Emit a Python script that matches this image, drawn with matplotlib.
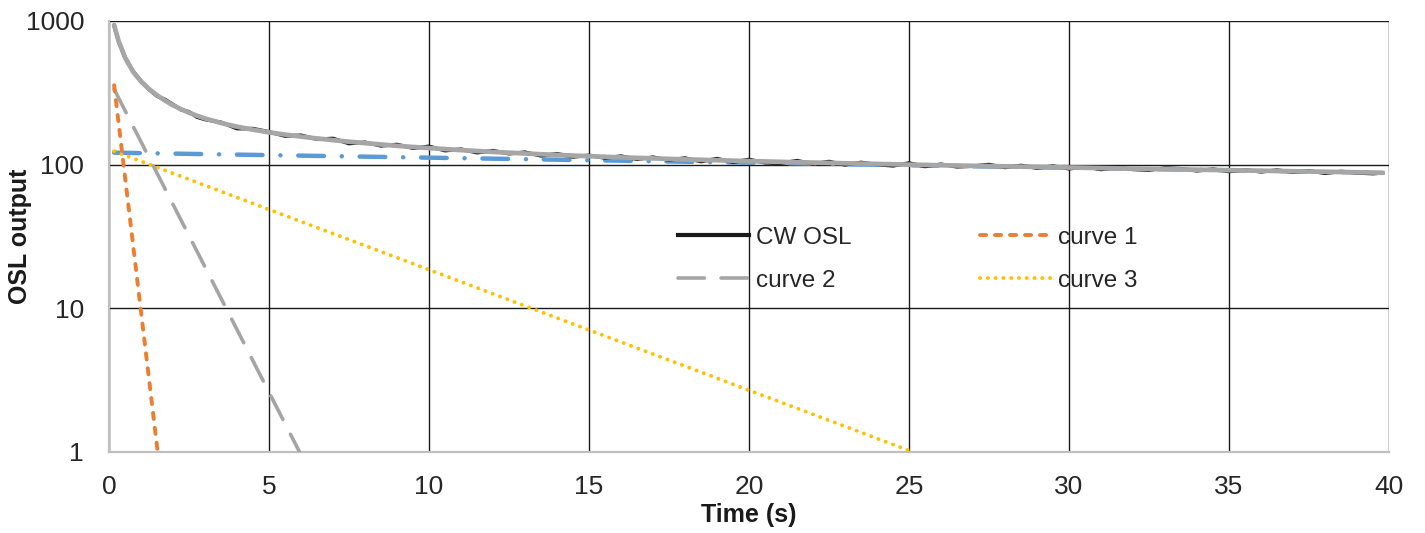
import matplotlib
matplotlib.use("Agg")
import matplotlib.pyplot as plt
from matplotlib.ticker import FixedLocator, NullLocator

plt.rcParams['font.family'] = ['Liberation Sans', 'DejaVu Sans']
plt.rcParams['lines.scale_dashes'] = False

# ---- data ----
t_cw = [0.16, 0.3, 0.5, 0.75, 1.0, 1.25, 1.5, 1.75, 2.0, 2.25, 2.5, 2.75, 3.0,
        3.5, 4.0, 4.5, 5.0, 5.5, 6.0, 6.5, 7.0, 7.5, 8.0, 8.5, 9.0, 9.5, 10.0,
        10.5, 11.0, 11.5, 12.0, 12.5, 13.0, 13.5, 14.0, 14.5, 15.0, 15.5, 16.0,
        16.5, 17.0, 17.5, 18.0, 18.5, 19.0, 19.5, 20.0, 20.5, 21.0, 21.5, 22.0,
        22.5, 23.0, 23.5, 24.0, 24.5, 25.0, 25.5, 26.0, 26.5, 27.0, 27.5, 28.0,
        28.5, 29.0, 29.5, 30.0, 30.5, 31.0, 31.5, 32.0, 32.5, 33.0, 33.5, 34.0,
        34.5, 35.0, 35.5, 36.0, 36.5, 37.0, 37.5, 38.0, 38.5, 39.0, 39.5, 39.8]

cw_osl = [930, 720, 560, 447, 382, 334, 300, 284, 262, 241, 233, 214, 206,
          197, 178, 178, 169, 158, 160, 150, 152, 140, 143, 135, 138, 130, 134,
          125, 128, 121, 125, 119, 122, 115, 119, 113, 116, 111, 114.5,
          109, 112.5, 107.5, 111, 105, 110, 104, 108.5, 103, 102, 106.5, 101,
          105, 99.5, 103.5, 100, 98, 102.5, 97, 100.5, 96.5, 97.5, 100, 95.5,
          98.5, 94.5, 97.5, 93.5, 96.5, 92.5, 95.5, 92.5, 91.5, 94.5, 93.5, 90.5,
          93, 89.5, 92, 89, 91.5, 88.5, 90.5, 87, 89.5, 87.5, 86.5, 87.5]

fit = [937, 726, 556, 444, 379, 336, 304, 279, 259, 243.2, 229.9, 218.8, 209.5,
       194.8, 183.6, 174.9, 167.7, 161.7, 156.6, 152.0, 148.0, 144.3, 141.0, 138.0, 135.1, 132.6, 130.3,
       128.2, 126.1, 124.3, 122.5, 121.0, 119.4, 118.0, 116.8, 115.5, 114.4, 113.3, 112.2,
       111.3, 110.4, 109.5, 108.7, 107.9, 107.2, 106.5, 105.7, 105.1, 104.4, 103.8, 103.2,
       102.7, 102.1, 101.6, 101.0, 100.5, 99.9, 99.4, 98.9, 98.5, 98.0, 97.6, 97.2,
       96.7, 96.3, 95.8, 95.4, 95.0, 94.5, 94.1, 93.7, 93.3, 92.9, 92.5, 92.1,
       91.8, 91.3, 91.0, 90.6, 90.2, 89.8, 89.4, 89.1, 88.7, 88.3, 88.0, 87.7]

t_c1 = [0.16, 1.52]
curve1 = [357, 1.0]
t_c2 = [0.16, 5.95]
curve2 = [335, 1.0]
t_c3 = [0.16, 25.1]
curve3 = [124, 1.0]
t_c4 = [0.16, 39.8]
curve4 = [121, 87.7]

x_ticks = [0, 5, 10, 15, 20, 25, 30, 35, 40]
y_ticks = [1, 10, 100, 1000]
y_tick_labels = ['1', '10', '100', '1000']

# ---- figure ----
fig = plt.figure(figsize=(14.25, 5.33), dpi=100)
ax = fig.add_axes([109/1425, 1 - 451.7/533, (1389 - 109)/1425, (451.7 - 21)/533])

ax.set_yscale('log')
ax.set_xlim(0, 40)
ax.set_ylim(1, 1000)

ax.xaxis.set_major_locator(FixedLocator(x_ticks))
ax.yaxis.set_major_locator(FixedLocator(y_ticks))
ax.yaxis.set_minor_locator(NullLocator())
ax.set_yticklabels(y_tick_labels)
ax.grid(True, which='major', color='#1a1a1a', linewidth=1.0, zorder=0)
ax.set_axisbelow(True)
ax.tick_params(axis='both', length=0, labelsize=19, colors='#262626')
ax.tick_params(axis='x', pad=17)
ax.tick_params(axis='y', pad=18)

for side in ['top', 'right']:
    ax.spines[side].set_visible(False)
for side in ['left', 'bottom']:
    ax.spines[side].set_color('#bfbfbf')
    ax.spines[side].set_linewidth(1.6)
    ax.spines[side].set_zorder(1)

# component curves
l4, = ax.plot(t_c4, curve4, color='#5b9bd5', linewidth=3.2, solid_capstyle='round',
              dash_capstyle='round', dashes=(18.5, 12.8, 0.1, 12.8), zorder=3)
l3, = ax.plot(t_c3, curve3, color='#ffc000', linewidth=2.8, dash_capstyle='round',
              dashes=(0.1, 5.5), zorder=3, label='curve 3')
l2, = ax.plot(t_c2, curve2, color='#a5a5a5', linewidth=2.6, dash_capstyle='round',
              dashes=(19.0, 12.0), zorder=3, label='curve 2')
l1, = ax.plot(t_c1, curve1, color='#ed7d31', linewidth=2.8, dash_capstyle='round',
              dashes=(4.4, 6.4), zorder=3, label='curve 1')

lcw, = ax.plot(t_cw, cw_osl, color='#1a1a1a', linewidth=2.6, zorder=4, label='CW OSL',
               solid_joinstyle='round')
lfit, = ax.plot(t_cw, fit, color='#a6a6a6', linewidth=3.4, zorder=5,
                solid_capstyle='round', solid_joinstyle='round')

ax.set_xlabel('Time (s)', fontsize=18, fontweight='bold', color='#1a1a1a')
ax.set_ylabel('OSL output', fontsize=18, fontweight='bold', color='#1a1a1a')
ax.xaxis.set_label_coords(0.5, -0.119)
ax.yaxis.set_label_coords(-0.060, 0.5)
ax.xaxis.label.set_va('top')

leg = ax.legend(handles=[lcw, l2, l1, l3], labels=['CW OSL', 'curve 2', 'curve 1', 'curve 3'],
                ncol=2, loc='upper left', bbox_to_anchor=(0.4445, 0.522),
                frameon=False, fontsize=17.5, handlelength=2.92, handletextpad=0.29,
                columnspacing=5.3, labelspacing=0.85, borderaxespad=0, borderpad=0)
for txt in leg.get_texts():
    txt.set_color('#262626')
leg.get_lines()[0].set_linewidth(3.0)

fig.savefig('out.png', dpi=100)
